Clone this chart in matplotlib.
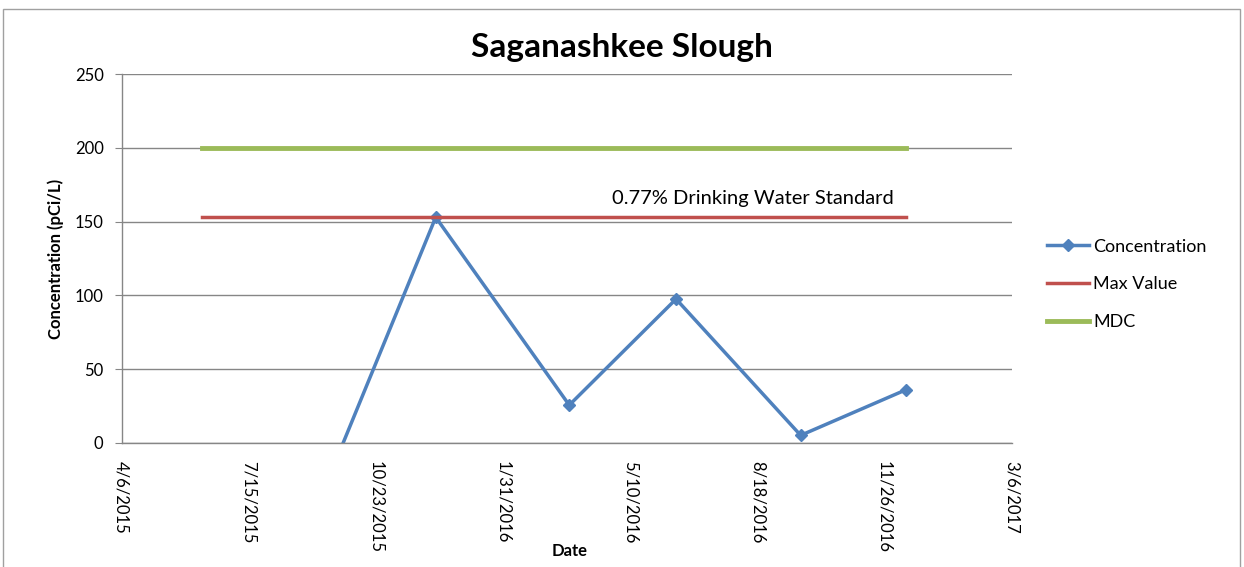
import matplotlib
matplotlib.use("Agg")
import matplotlib.pyplot as plt
import matplotlib.dates as mdates
from matplotlib.patches import Rectangle
from datetime import date

# Sample data (first sample is negative and falls below the axis)
sample_dates = [date(2015, 6, 8), date(2015, 12, 9), date(2016, 3, 23),
                date(2016, 6, 15), date(2016, 9, 21), date(2016, 12, 13)]
concentration = [-234, 153, 25.5, 97.5, 5, 36]

# Reference lines span first to last sample
ref_dates = [date(2015, 6, 8), date(2016, 12, 13)]
max_value = [153, 153]
mdc = [200, 200]

tick_dates = [date(2015, 4, 6), date(2015, 7, 15), date(2015, 10, 23), date(2016, 1, 31),
              date(2016, 5, 10), date(2016, 8, 18), date(2016, 11, 26), date(2017, 3, 6)]
tick_labels = ["4/6/2015", "7/15/2015", "10/23/2015", "1/31/2016",
               "5/10/2016", "8/18/2016", "11/26/2016", "3/6/2017"]

plt.rcParams['font.family'] = ['Lato', 'DejaVu Sans']

fig = plt.figure(figsize=(12.44, 5.67), dpi=100)
fig.patches.append(Rectangle((3 / 1244, -0.1), 1237 / 1244, 1.1 - 9 / 567,
                             transform=fig.transFigure, fill=False,
                             edgecolor='#a0a0a0', linewidth=1))
ax = fig.add_axes([0.0978, 0.2192, 0.7155, 0.6498])

ax.plot(sample_dates, concentration, color='#4F81BD', linewidth=2.5,
        marker='D', markersize=6, label='Concentration')
ax.plot(ref_dates, max_value, color='#C0504D', linewidth=2.5, label='Max Value')
ax.plot(ref_dates, mdc, color='#9BBB59', linewidth=3.5, label='MDC')

ax.set_ylim(0, 250)
ax.set_yticks(range(0, 251, 50))
ax.set_xlim(mdates.date2num(tick_dates[0]), mdates.date2num(tick_dates[-1]))
ax.set_xticks([mdates.date2num(d) for d in tick_dates])
ax.set_xticklabels(tick_labels, rotation=-90, fontsize=12)
ax.tick_params(axis='y', labelsize=12, length=5, color='#868686', pad=8)
ax.tick_params(axis='x', length=0, pad=13)

ax.grid(axis='y', color='#868686', linewidth=1)
ax.set_axisbelow(True)
for s in ['top', 'right']:
    ax.spines[s].set_visible(False)
for s in ['left', 'bottom']:
    ax.spines[s].set_color('#868686')
    ax.spines[s].set_linewidth(1)

ax.text(mdates.date2num(date(2016, 12, 3)), 160, '0.77% Drinking Water Standard',
        ha='right', va='bottom', fontsize=14.5)

fig.text(0.5, 0.917, 'Saganashkee Slough', ha='center', va='center',
         fontsize=24, fontweight='bold')
ax.set_ylabel('Concentration (pCi/L)', fontsize=12, fontweight='bold', labelpad=8)
fig.text(0.458, 0.028, 'Date', ha='center', va='center', fontsize=12, fontweight='bold')

ax.legend(loc='center left', bbox_to_anchor=(1.04, 0.43), frameon=False,
          fontsize=13, handlelength=2.3, handletextpad=0.25, labelspacing=1.2,
          borderpad=0, borderaxespad=0)

fig.savefig('out.png', dpi=100)
